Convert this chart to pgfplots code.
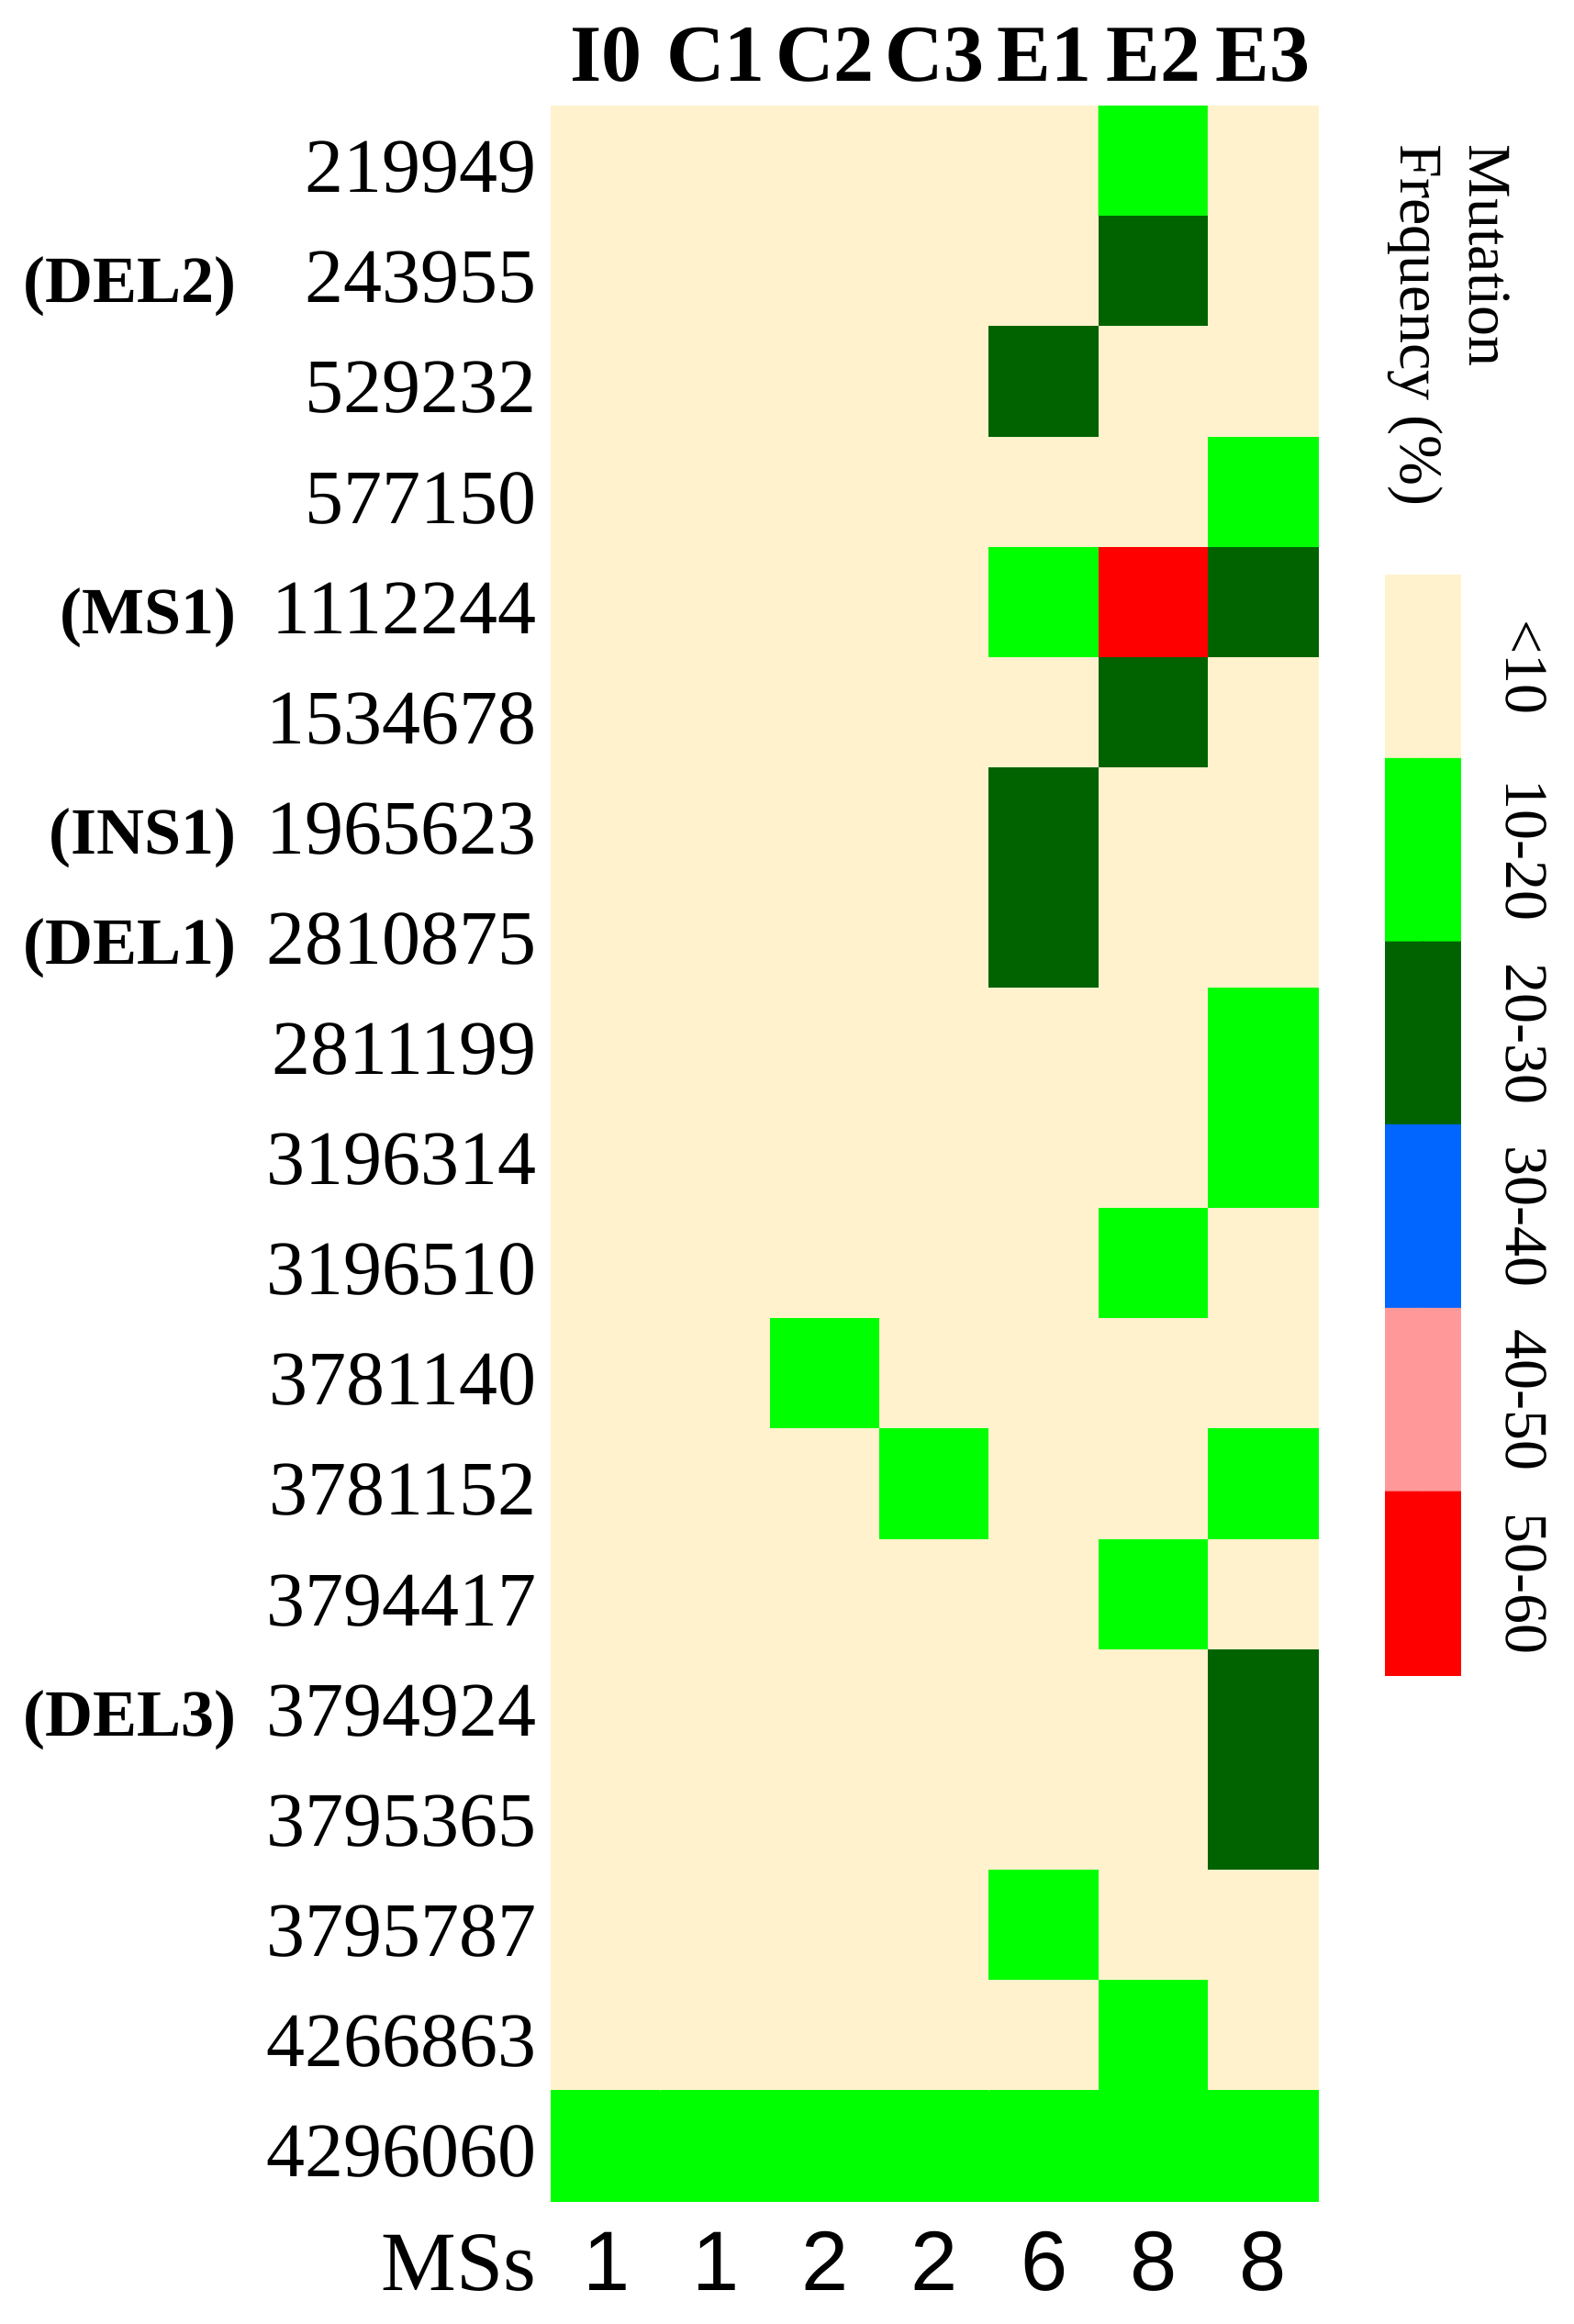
\documentclass[border=0pt]{standalone}
\usepackage{fontspec}
\setmainfont{Liberation Serif}
\newfontfamily\sansf{Liberation Sans}
\usepackage{pgfplots}
\pgfplotsset{compat=1.18}

\pgfplotsset{
  colormap={mutlev}{rgb255=(255,242,204) rgb255=(0,255,0) rgb255=(0,99,0) rgb255=(0,102,255) rgb255=(255,153,153) rgb255=(255,0,0)},
}

\begin{document}
\begin{tikzpicture}
\useasboundingbox (0,0) rectangle (428.75pt,633pt);

\begin{axis}[
  at={(150.25pt,33.5pt)}, anchor=south west,
  scale only axis, width=208.75pt, height=570.5pt,
  xmin=-0.5, xmax=6.5, ymin=-0.5, ymax=18.5,
  y dir=reverse, hide axis, clip=false,
  colormap name=mutlev, colormap access=direct,
]
\addplot[matrix plot*, mesh/cols=7, point meta=explicit] coordinates {
(0,0)[0] (1,0)[0] (2,0)[0] (3,0)[0] (4,0)[0] (5,0)[1] (6,0)[0]
(0,1)[0] (1,1)[0] (2,1)[0] (3,1)[0] (4,1)[0] (5,1)[2] (6,1)[0]
(0,2)[0] (1,2)[0] (2,2)[0] (3,2)[0] (4,2)[2] (5,2)[0] (6,2)[0]
(0,3)[0] (1,3)[0] (2,3)[0] (3,3)[0] (4,3)[0] (5,3)[0] (6,3)[1]
(0,4)[0] (1,4)[0] (2,4)[0] (3,4)[0] (4,4)[1] (5,4)[5] (6,4)[2]
(0,5)[0] (1,5)[0] (2,5)[0] (3,5)[0] (4,5)[0] (5,5)[2] (6,5)[0]
(0,6)[0] (1,6)[0] (2,6)[0] (3,6)[0] (4,6)[2] (5,6)[0] (6,6)[0]
(0,7)[0] (1,7)[0] (2,7)[0] (3,7)[0] (4,7)[2] (5,7)[0] (6,7)[0]
(0,8)[0] (1,8)[0] (2,8)[0] (3,8)[0] (4,8)[0] (5,8)[0] (6,8)[1]
(0,9)[0] (1,9)[0] (2,9)[0] (3,9)[0] (4,9)[0] (5,9)[0] (6,9)[1]
(0,10)[0] (1,10)[0] (2,10)[0] (3,10)[0] (4,10)[0] (5,10)[1] (6,10)[0]
(0,11)[0] (1,11)[0] (2,11)[1] (3,11)[0] (4,11)[0] (5,11)[0] (6,11)[0]
(0,12)[0] (1,12)[0] (2,12)[0] (3,12)[1] (4,12)[0] (5,12)[0] (6,12)[1]
(0,13)[0] (1,13)[0] (2,13)[0] (3,13)[0] (4,13)[0] (5,13)[1] (6,13)[0]
(0,14)[0] (1,14)[0] (2,14)[0] (3,14)[0] (4,14)[0] (5,14)[0] (6,14)[2]
(0,15)[0] (1,15)[0] (2,15)[0] (3,15)[0] (4,15)[0] (5,15)[0] (6,15)[2]
(0,16)[0] (1,16)[0] (2,16)[0] (3,16)[0] (4,16)[1] (5,16)[0] (6,16)[0]
(0,17)[0] (1,17)[0] (2,17)[0] (3,17)[0] (4,17)[0] (5,17)[1] (6,17)[0]
(0,18)[1] (1,18)[1] (2,18)[1] (3,18)[1] (4,18)[1] (5,18)[1] (6,18)[1]
};

% column headers
\foreach \lab [count=\i from 0] in {I0,C1,C2,C3,E1,E2,E3} {
  \edef\temp{\noexpand\node[anchor=base, inner sep=0pt, font=\noexpand\fontsize{22}{24}\noexpand\selectfont\noexpand\bfseries] at (axis cs:\i,-0.725) {\lab};}
  \temp
}
% row labels
\foreach \lab [count=\i from 0] in {219949,243955,529232,577150,1112244,1534678,1965623,2810875,2811199,3196314,3196510,3781140,3781152,3794417,3794924,3795365,3795787,4266863,4296060} {
  \edef\temp{\noexpand\node[anchor=base east, inner sep=0pt, font=\noexpand\fontsize{21}{24}\noexpand\selectfont] at (axis cs:-0.634,\i+0.28) {\lab};}
  \temp
}
% annotations
\foreach \r/\lab in {1/(DEL2),4/(MS1),6/(INS1),7/(DEL1),14/(DEL3)} {
  \edef\temp{\noexpand\node[anchor=base east, inner sep=0pt, font=\noexpand\fontsize{18}{20}\noexpand\selectfont\noexpand\bfseries] at (axis cs:-3.375,\r+0.28) {\lab};}
  \temp
}
% MSs row
\node[anchor=base east, inner sep=0pt, font=\fontsize{23}{26}\selectfont] at (axis cs:-0.634,19.31) {MSs};
\foreach \lab [count=\i from 0] in {1,1,2,2,6,8,8} {
  \edef\temp{\noexpand\node[anchor=base, inner sep=0pt, font=\noexpand\fontsize{23}{26}\noexpand\selectfont\noexpand\sansf] at (axis cs:\i,19.31) {\lab};}
  \temp
}
\end{axis}

% colour bar
\begin{axis}[
  at={(377.5pt,176.75pt)}, anchor=south west,
  scale only axis, width=20.25pt, height=299.5pt,
  xmin=-0.5, xmax=1.5, ymin=-0.5, ymax=5.5,
  y dir=reverse, hide axis, clip=false,
  colormap name=mutlev, colormap access=direct,
]
\addplot[matrix plot*, mesh/cols=2, point meta=explicit] coordinates {
(0,0)[0] (1,0)[0]
(0,1)[1] (1,1)[1]
(0,2)[2] (1,2)[2]
(0,3)[3] (1,3)[3]
(0,4)[4] (1,4)[4]
(0,5)[5] (1,5)[5]
};
\foreach \lab [count=\i from 0] in {<10,10-20,20-30,30-40,40-50,50-60} {
  \edef\temp{\noexpand\node[rotate=-90, anchor=center, inner sep=0pt, font=\noexpand\fontsize{16.5}{18}\noexpand\selectfont] at (axis cs:3.28,\i) {\lab};}
  \temp
}
\end{axis}

\node[rotate=-90, anchor=west, inner sep=0pt, font=\fontsize{16.5}{18}\selectfont] at (405.75pt,593.75pt) {Mutation};
\node[rotate=-90, anchor=west, inner sep=0pt, font=\fontsize{16.5}{18}\selectfont] at (385.5pt,593.75pt) {Frequency (\%)};
\end{tikzpicture}
\end{document}
